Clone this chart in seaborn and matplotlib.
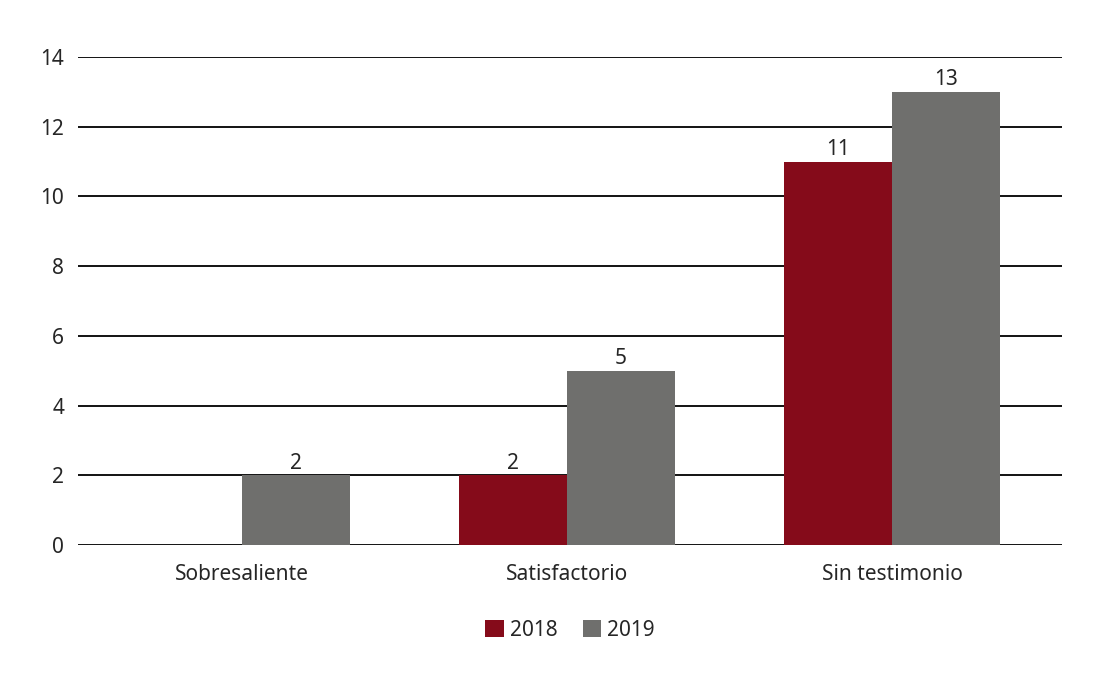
import numpy as np
import pandas as pd
import matplotlib
matplotlib.use("Agg")
import matplotlib.pyplot as plt
import seaborn as sns

categories = ["Sobresaliente", "Satisfactorio", "Sin testimonio"]
years = ["2018", "2019"]
values_2018 = [0, 2, 11]
values_2019 = [2, 5, 13]
y_ticks = [0, 2, 4, 6, 8, 10, 12, 14]

palette = {"2018": "#850B1A", "2019": "#6F6F6D"}

df = pd.DataFrame({
    "categoria": categories * 2,
    "anio": ["2018"] * 3 + ["2019"] * 3,
    "valor": values_2018 + values_2019,
})

sns.set_style("white")
plt.rcParams["font.family"] = ["Noto Sans", "DejaVu Sans"]

fig = plt.figure(figsize=(11.18, 6.84), dpi=100)
ax = fig.add_axes([78 / 1118, 1 - 545 / 684, (1062 - 78) / 1118, (545 - 57) / 684])

sns.barplot(data=df, x="categoria", y="valor", hue="anio", hue_order=years,
            palette=palette, width=0.665, saturation=1, linewidth=0,
            ax=ax, zorder=3)

for container in ax.containers:
    labels = [f"{v:g}" if v > 0 else "" for v in container.datavalues]
    ax.bar_label(container, labels=labels, padding=1, fontsize=15)

ax.set_ylim(0, 14)
ax.set_xlim(-0.505, 2.523)
ax.set_yticks(y_ticks)
ax.yaxis.grid(True, color="black", linewidth=1.3)
ax.set_axisbelow(True)
for s in ax.spines.values():
    s.set_visible(False)
ax.tick_params(axis="both", length=0, labelsize=15)
ax.tick_params(axis="y", pad=10)
ax.tick_params(axis="x", pad=14)
ax.set_xlabel("")
ax.set_ylabel("")

ax.legend(loc="upper center", bbox_to_anchor=(0.5, -0.115), ncol=2, frameon=False,
          fontsize=15, handlelength=0.9, handleheight=0.9, handletextpad=0.3,
          columnspacing=1.2)

fig.savefig("out.png", dpi=100)
